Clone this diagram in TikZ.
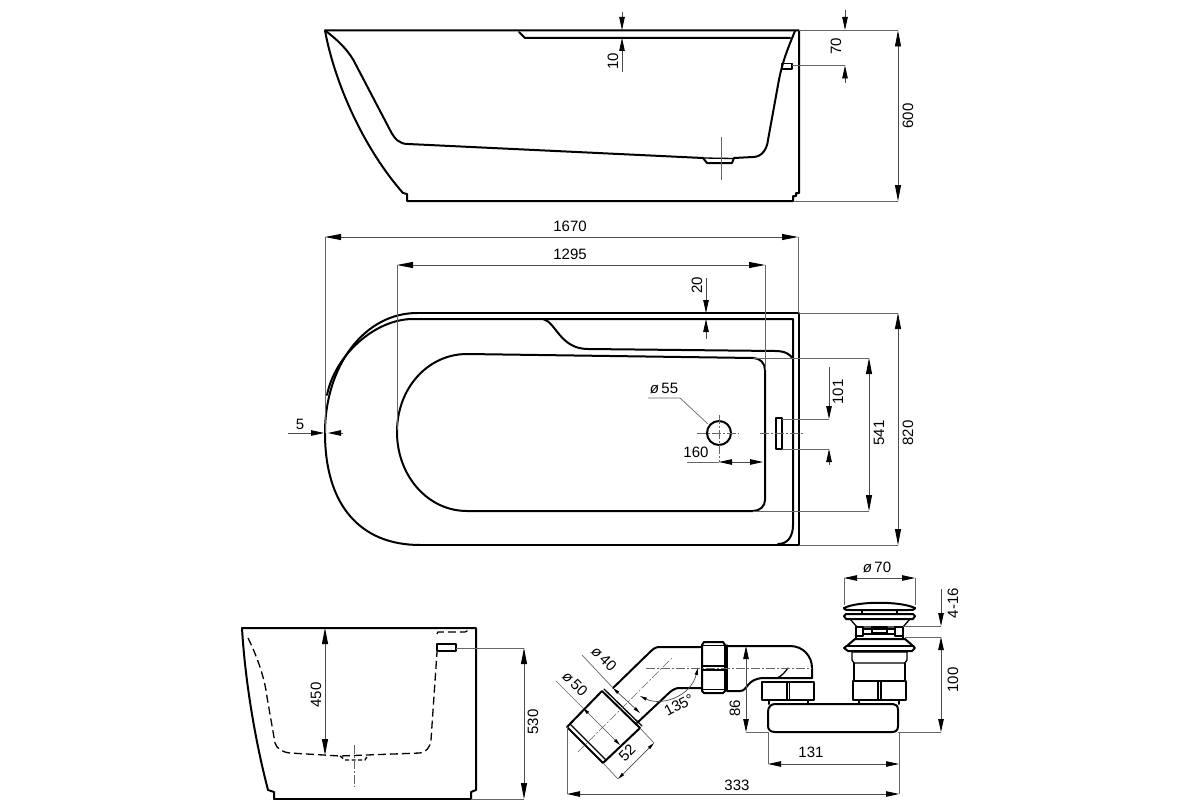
\documentclass[tikz,border=0pt]{standalone}
\usepackage{fontspec}
\setmainfont{Liberation Sans}
\usetikzlibrary{arrows.meta}
\tikzset{
  body/.style={line width=2pt,line join=round,line cap=round},
  part/.style={line width=1.3pt,line join=round,line cap=round},
  hidden/.style={line width=1.3pt,dash pattern=on 8pt off 4pt},
  extline/.style={line width=0.7pt,color=black!60},
  dimline/.style={line width=0.8pt,color=black!70,>={Triangle[length=16pt,width=6pt,color=black]}},
  dimsmall/.style={line width=0.8pt,color=black!70,>={Triangle[length=13pt,width=5.5pt,color=black]}},
  dimtiny/.style={line width=0.7pt,color=black!70,>={Triangle[length=7pt,width=3pt,color=black]}},
  axisline/.style={line width=0.6pt,color=black!60,dash pattern=on 9pt off 2pt on 2pt off 2pt},
  dimtext/.style={font=\fontsize{15}{17}\selectfont,inner sep=0pt}
}
\begin{document}
\begin{tikzpicture}[x=1pt,y=-1pt]
\useasboundingbox (0,0) rectangle (1200,800);
\fill[white] (0,0) rectangle (1200,800);

% side view
\draw[body] (325,30.5) -- (799,30.5) -- (799,193) -- (796,193) -- (796,196) -- (793,196) -- (793,201) -- (407,201) -- (407,194) -- (403,193);
\draw[body] (325,30.5) .. controls (335,85) and (365,150) .. (403,193);
\draw[body] (325,30.5) .. controls (338,40) and (350,52) .. (356,65) -- (390,130) .. controls (395,140) and (400,144) .. (408,144);
\draw[body] (408,144) -- (703,158) -- (707,163) -- (732,163) -- (734,158) -- (753,157);
\draw[part] (703,158) -- (734,158.5);
\draw[body] (753,157) .. controls (762,157) and (767,149) .. (768,140) -- (778,85) .. controls (782,62) and (788,48) .. (795,31);
\draw[body] (519,32) -- (525,38) -- (790,38);
\draw[part] (782,63.5) rectangle (792,69);
\draw[extline] (721,137) -- (721,180);
\draw[dimsmall,->] (622,12) -- (622,30);
\draw[dimsmall,->] (622,72) -- (622,38);
\node[dimtext,rotate=90] (sideten) at (613,61) {10};
\draw[extline] (792,65.5) -- (845,65.5);
\draw[dimsmall,->] (845,10) -- (845,30);
\draw[dimsmall,->] (845,83) -- (845,65.5);
\node[dimtext,rotate=90] (sideseventy) at (836,46) {70};
\draw[extline] (799,30.5) -- (898,30.5);
\draw[extline] (794,201) -- (898,201);
\draw[dimline,<->] (898,30.5) -- (898,201);
\node[dimtext,rotate=90] (sideheight) at (908,116) {600};

% plan view
\draw[body] (417,313) .. controls (365,313) and (325,365) .. (325,433) .. controls (325,505) and (360,545) .. (420,545);
\draw[body] (417,313) -- (799,313) -- (799,545) -- (420,545);
\draw[body] (413,319) .. controls (375,319) and (335,355) .. (327,395);
\draw[body] (413,319) -- (543,319) .. controls (556,322) and (560,349) .. (588,349) -- (775,351) .. controls (785,351) and (790,354) .. (793,359);
\draw[body] (543,319) -- (793,319) -- (793,525) .. controls (793,536) and (788,544) .. (778,544);
\draw[body] (467,354) .. controls (428,354) and (397,388) .. (397,432) .. controls (397,476) and (428,511) .. (467,511) -- (753,511) .. controls (760,511) and (765,506) .. (765,500) -- (765,370) .. controls (765,363) and (760,358) .. (753,358) -- cycle;
\draw[body] (719,433) circle (12);
\draw[axisline] (697,433) -- (739,433);
\draw[axisline] (719,415) -- (719,462);
\draw[part] (776,418) rectangle (782,449);
\draw[axisline] (760,433) -- (803,433);
\draw[extline] (648,398) -- (680,398) -- (708,424);
\node[dimtext] (planhole) at (664,388) {\textit{ø}\,55};
\draw[extline] (687,462) -- (719,462);
\draw[dimsmall,->] (745,462) -- (719,462);
\draw[dimsmall,->] (735,462) -- (763,462);
\node[dimtext] (planoffset) at (696,452.5) {160};
\draw[extline] (782,419) -- (829,419);
\draw[extline] (782,449) -- (829,449);
\draw[dimsmall,->] (829,367) -- (829,419);
\draw[dimsmall,->] (829,465) -- (829,449);
\node[dimtext,rotate=90] (planslot) at (838,392) {101};
\draw[extline] (753,358) -- (869,358);
\draw[extline] (753,511) -- (869,511);
\draw[dimline,<->] (869,358) -- (869,511);
\node[dimtext,rotate=90] (planinner) at (879,433) {541};
\draw[extline] (799,313) -- (898,313);
\draw[extline] (799,545) -- (898,545);
\draw[dimline,<->] (898,313) -- (898,545);
\node[dimtext,rotate=90] (planwidth) at (908,433) {820};
\draw[dimsmall,->] (288,433) -- (324,433);
\draw[dimsmall,->] (343,433) -- (328,433);
\node[dimtext] (planfive) at (300,424) {5};
\draw[extline] (325,237) -- (325,433);
\draw[extline] (798,237) -- (798,313);
\draw[dimline,<->] (325,237) -- (798,237);
\node[dimtext] (planlength) at (570,226) {1670};
\draw[extline] (397,265) -- (397,430);
\draw[extline] (765,265) -- (765,370);
\draw[dimline,<->] (397,265) -- (765,265);
\node[dimtext] (planbasin) at (570,254) {1295};
\draw[dimsmall,->] (706,278) -- (706,313);
\draw[dimsmall,->] (706,339) -- (706,319);
\node[dimtext,rotate=90] (plantwenty) at (697,285) {20};

% end view
\draw[body] (242,628) -- (476,628) -- (476,790) -- (471,792) -- (471,799) -- (274,799) -- (274,792) -- (268,790);
\draw[body] (242,628) .. controls (245,680) and (255,740) .. (268,790);
\draw[hidden] (248,638) .. controls (258,658) and (265,680) .. (267,697) -- (275,743) .. controls (277,749) and (282,752) .. (290,753) -- (340,756) -- (420,753) .. controls (426,752) and (430,748) .. (431,740) -- (437,652);
\draw[hidden] (437,634) -- (438,632) -- (465,632) -- (471,629);
\draw[hidden,dash pattern=on 4pt off 2.5pt] (340,756) -- (345,760) -- (365,760) -- (368,755);
\draw[part] (437,644) rectangle (456,651);
\draw[axisline] (354,745) -- (354,787);
\draw[dimline,<->] (325,628) -- (325,755);
\node[dimtext,rotate=90] (endbasin) at (316,695) {450};
\draw[extline] (456,648) -- (524,648);
\draw[extline] (471,799) -- (524,799);
\draw[dimline,<->] (524,648) -- (524,799);
\node[dimtext,rotate=90] (endheight) at (533,722) {530};

% siphon, elbow side
\draw[body] (602,691) -- (640,728) -- (603,763) -- (567,727) -- cycle;
\draw[part] (604,689) -- (642,726);
\draw[part] (570,724) -- (606,760);
\draw[body] (613,688) -- (650,652) .. controls (654,648) and (656,647) .. (660,647) -- (702,647);
\draw[body] (637,723) -- (670,692) .. controls (674,689) and (676,688) .. (680,688) -- (702,688);
\draw[body] (704,642) -- (723,642) -- (725,645) -- (725,691) -- (723,693) -- (704,693) -- (702,691) -- (702,645) -- cycle;
\draw[part] (727,645) -- (727,691);
\draw[part] (703,645.5) -- (724,645.5);
\draw[part] (703,666) -- (724,666);
\draw[part] (703,670) -- (724,670);
\draw[part] (703,689.5) -- (724,689.5);
\draw[body] (727,646) -- (790,646) .. controls (803,646) and (812,656) .. (812,668) -- (812,678);
\draw[body] (727,691) -- (740,691) .. controls (748,691) and (746,679) .. (763,678) -- (812,678);
\draw[part] (777,678) .. controls (782,676) and (785,672) .. (788,668);
\draw[axisline] (646,668) -- (812,668);
\draw[axisline] (578,752) -- (672,658);

% siphon, nuts and body
\draw[body] (762,682) -- (814,682) -- (814,700) -- (762,700) -- cycle;
\draw[part] (787,682) -- (787,700);
\draw[part] (789.5,682) -- (789.5,700);
\draw[body] (769,700) -- (769,704);
\draw[body] (808,700) -- (808,704);
\draw[body] (853,681) -- (906,681) -- (906,700) -- (853,700) -- cycle;
\draw[part] (878,681) -- (878,700);
\draw[part] (881,681) -- (881,700);
\draw[body] (859,700) -- (859,704);
\draw[body] (899,700) -- (899,704);
\draw[body] (775,704) -- (893,704) .. controls (896,704) and (898,706) .. (898,710) -- (898,726) .. controls (898,730) and (896,732) .. (892,732) -- (775,732) .. controls (771,732) and (768,730) .. (768,726) -- (768,712) .. controls (768,707) and (771,704) .. (775,704) -- cycle;

% siphon, waste valve
\draw[part] (854,663) -- (854,681);
\draw[part] (905,663) -- (905,681);
\draw[part] (852,652) -- (907,652) -- (907,660) -- (905,663) -- (854,663) -- (852,660) -- cycle;
\draw[body] (844,648) -- (848,645) -- (855,639) -- (905,639) -- (912,645) -- (915,648) -- (912,651) -- (848,651) -- cycle;
\draw[part] (846,646) -- (914,646);
\draw[part] (856,636) rectangle (863,627);
\draw[part] (895,636) rectangle (903,627);
\draw[part] (872,627) rectangle (887,633);
\draw[part] (863,629) -- (895,629);
\draw[part] (863,634) -- (895,634);
\draw[part] (856,639) -- (856,636);
\draw[part] (903,639) -- (903,636);
\draw[part] (850,619) -- (857,627) -- (903,627) -- (910,619);
\draw[body] (846,614) -- (913,614) -- (915,616) -- (913,619) -- (846,619) -- (844,616) -- cycle;
\draw[part] (862,610) -- (862,614);
\draw[part] (897,610) -- (897,614);
\draw[body] (844,608) .. controls (858,601) and (900,601) .. (915,608) .. controls (915,610) and (912,610) .. (908,610) -- (851,610) .. controls (847,610) and (844,610) .. (844,608) -- cycle;

% siphon, dimensions
\draw[extline] (844,578) -- (844,605);
\draw[extline] (915,578) -- (915,605);
\draw[dimsmall,<->] (844,578) -- (915,578);
\node[dimtext] (valvewidth) at (877,567) {\textit{ø}\,70};
\draw[extline] (903,626) -- (941,626);
\draw[extline] (905,637) -- (941,637);
\draw[extline] (898,732) -- (941,732);
\draw[dimsmall,->] (941,589) -- (941,626);
\draw[dimsmall,<->] (941,637) -- (941,732);
\node[dimtext,rotate=90] (valvetravel) at (953,603) {4-16};
\node[dimtext,rotate=90] (valveheight) at (953,680) {100};
\draw[extline] (746,732) -- (768,732);
\draw[dimsmall,<->] (746,646) -- (746,732);
\node[dimtext,rotate=90] (trapheight) at (735,708) {86};
\draw[extline] (768,732) -- (768,764);
\draw[extline] (899,732) -- (899,794);
\draw[dimsmall,<->] (768,764) -- (899,764);
\node[dimtext] (trapspan) at (811,752) {131};
\draw[extline] (567,727) -- (567,794);
\draw[dimsmall,<->] (567,794) -- (899,794);
\node[dimtext] (trapwidth) at (737,785) {333};
\draw[extline] (640,728) -- (654,743);
\draw[extline] (603,763) -- (618,779);
\draw[dimtiny,<->] (654,743) -- (618,779);
\node[dimtext,rotate=45] (cuplength) at (627,753) {52};
\draw[extline] (556,681) -- (583,708);
\draw[dimtiny,<->] (583,708) -- (620,745);
\node[dimtext,rotate=-45] (cupwidth) at (575,684) {\textit{ø}\,50};
\draw[extline] (582,655) -- (613,688);
\draw[dimtiny,<->] (613,688) -- (640,713);
\node[dimtext,rotate=-45] (pipewidth) at (604,659) {\textit{ø}\,40};
\draw[dimtiny,<->] (640,696) .. controls (660,706) and (690,698) .. (698,668);
\node[dimtext,rotate=28] (pipeangle) at (679,705) {135°};
\end{tikzpicture}
\end{document}
